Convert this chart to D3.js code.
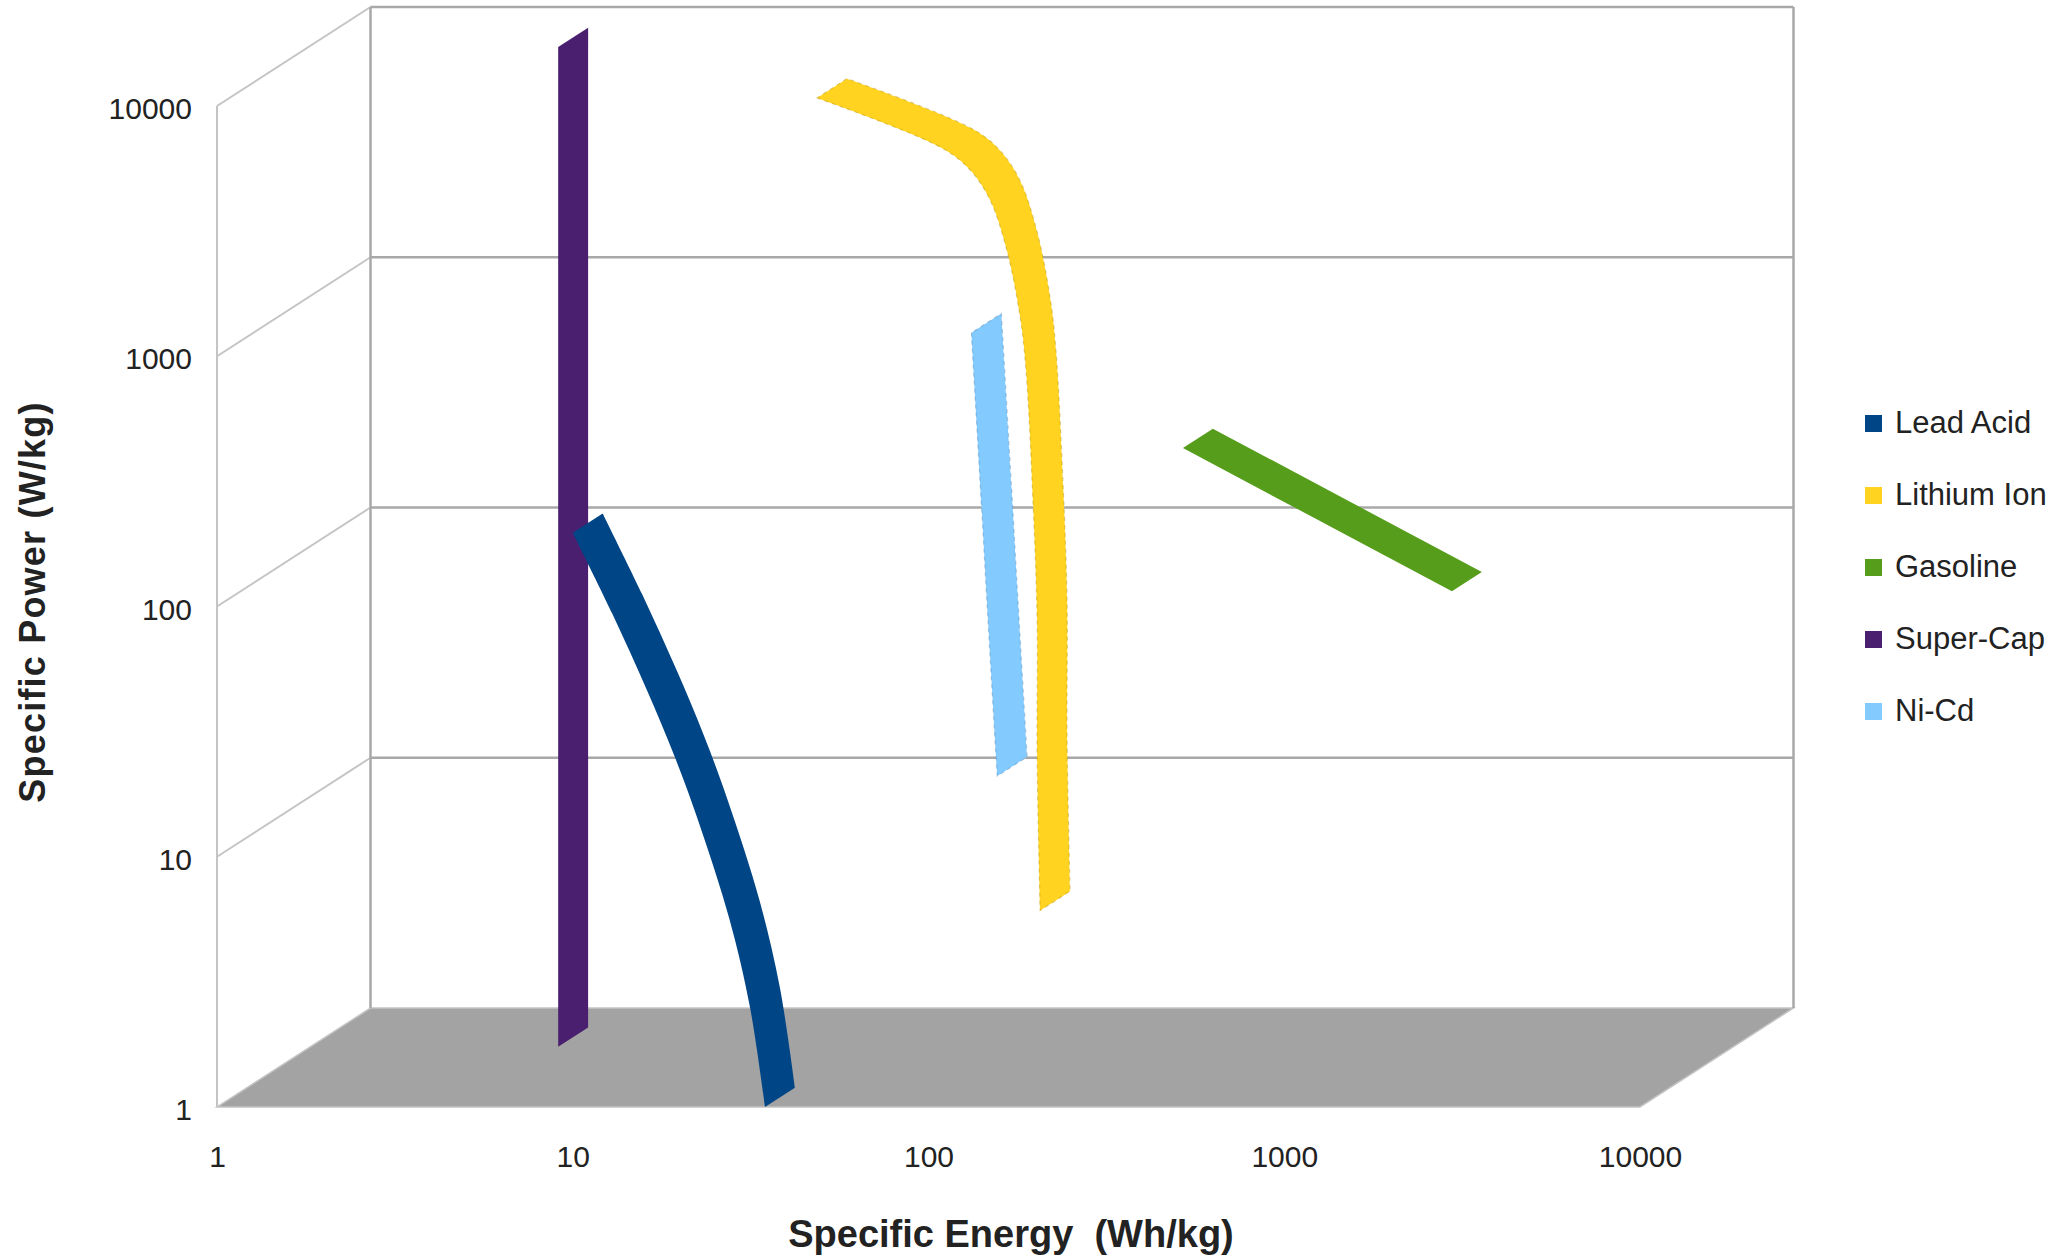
<!DOCTYPE html>
<html lang="en">
<head>
    <meta charset="UTF-8" />
    <title>Specific Power vs Specific Energy</title>
    <script src="https://d3js.org/d3.v7.min.js"></script>
    <style>
        body { margin: 0; background: #fff; }
        text { font-family: "Liberation Sans", Arial, sans-serif; fill: #222; }
    </style>
</head>

<body>
    <script>
        var w = 2051;
        var h = 1258;

        // Data (Wh/kg, W/kg)
        var seriesNames = ["Lead Acid", "Lithium Ion", "Gasoline", "Super-Cap", "Ni-Cd"];
        var seriesColors = ["#004586", "#ffd320", "#579d1c", "#4b1f6f", "#83caff"];

        var leadAcidEnergy = [10.0, 12.9, 16.2, 19.3, 22.5, 27.6, 31.5, 34.7];
        var leadAcidPower  = [197, 94, 46, 25.3, 14.0, 5.6, 2.5, 1.0];

        var lithiumEnergy = [48.6, 109, 131, 149, 166, 181, 188, 197, 202, 202, 206];
        var lithiumPower  = [10770, 6800, 5550, 4210, 2660, 1435, 881, 250, 88, 25, 6.1];

        var gasolineEnergy = [519, 2960];
        var gasolinePower  = [430, 115];

        var superCapEnergy = [9.1, 9.1];
        var superCapPower  = [1.74, 17200];

        var niCdEnergy = [132, 141, 147, 156];
        var niCdPower  = [1240, 250, 88, 21];

        var xTicks = [1, 10, 100, 1000, 10000];
        var yTicks = [1, 10, 100, 1000, 10000];

        // 3D box: depth vector of the floor, ribbon depth as fraction of it
        var depthX = 153.5;
        var depthY = -99;
        var ribbonDepth = 0.195;

        var svg = d3.select("body")
            .append("svg")
            .attr("width", w)
            .attr("height", h);

        // Scales (front plane)
        var xScale = d3.scaleLog()
            .domain([1, 10000])
            .range([217, 1640]);

        var yScale = d3.scaleLog()
            .domain([1, 10000])
            .range([1107, 106]);

        var x0 = xScale(1), x1 = xScale(10000);
        var y0 = yScale(1), y1 = yScale(10000);

        // Floor
        svg.append("path")
            .attr("d", "M" + x0 + "," + y0 + "L" + x1 + "," + y0 +
                "L" + (x1 + depthX) + "," + (y0 + depthY) +
                "L" + (x0 + depthX) + "," + (y0 + depthY) + "Z")
            .attr("fill", "#a3a3a3")
            .attr("stroke", "#c4c4c4")
            .attr("stroke-width", 1.5);

        // Side wall diagonals
        svg.selectAll(".diag")
            .data(yTicks.slice(1))
            .enter()
            .append("line")
            .attr("class", "diag")
            .attr("x1", x0)
            .attr("y1", function(d) { return yScale(d); })
            .attr("x2", x0 + depthX)
            .attr("y2", function(d) { return yScale(d) + depthY; })
            .attr("stroke", "#c4c4c4")
            .attr("stroke-width", 2);

        // Front left edge
        svg.append("line")
            .attr("x1", x0).attr("y1", y1)
            .attr("x2", x0).attr("y2", y0)
            .attr("stroke", "#c4c4c4")
            .attr("stroke-width", 2);

        // Back wall gridlines
        svg.selectAll(".grid")
            .data(yTicks.slice(1))
            .enter()
            .append("line")
            .attr("class", "grid")
            .attr("x1", x0 + depthX)
            .attr("x2", x1 + depthX)
            .attr("y1", function(d) { return yScale(d) + depthY; })
            .attr("y2", function(d) { return yScale(d) + depthY; })
            .attr("stroke", "#a8a8a8")
            .attr("stroke-width", 2.5);

        // Back wall edges
        [x0, x1].forEach(function(xx) {
            svg.append("line")
                .attr("x1", xx + depthX).attr("y1", y1 + depthY)
                .attr("x2", xx + depthX).attr("y2", y0 + depthY)
                .attr("stroke", "#a8a8a8")
                .attr("stroke-width", 2.5);
        });

        // Ribbons: front edge at the data, back edge pushed into depth
        var line = d3.line().curve(d3.curveCatmullRom.alpha(0.5));

        function ribbon(xs, ys) {
            var front = xs.map(function(x, i) { return [xScale(x), yScale(ys[i])]; });
            var back = front.map(function(p) {
                return [p[0] + ribbonDepth * depthX, p[1] + ribbonDepth * depthY];
            }).reverse();
            return line(front) + "L" + line(back).slice(1) + "Z";
        }

        var ribbons = [
            { name: "Super-Cap", xs: superCapEnergy, ys: superCapPower, dashed: false },
            { name: "Lead Acid", xs: leadAcidEnergy, ys: leadAcidPower, dashed: false },
            { name: "Lithium Ion", xs: lithiumEnergy, ys: lithiumPower, dashed: true },
            { name: "Gasoline", xs: gasolineEnergy, ys: gasolinePower, dashed: false },
            { name: "Ni-Cd", xs: niCdEnergy, ys: niCdPower, dashed: true }
        ];

        svg.selectAll(".ribbon")
            .data(ribbons)
            .enter()
            .append("path")
            .attr("class", "ribbon")
            .attr("d", function(d) { return ribbon(d.xs, d.ys); })
            .attr("fill", function(d) { return seriesColors[seriesNames.indexOf(d.name)]; })
            .attr("stroke", function(d) {
                return d.dashed ? d3.color(seriesColors[seriesNames.indexOf(d.name)]).darker(0.8) : "none";
            })
            .attr("stroke-opacity", 0.5)
            .attr("stroke-width", 1.2)
            .attr("stroke-dasharray", "4,4");

        // Axes
        var yAxis = svg.append("g")
            .attr("transform", "translate(" + x0 + ",3)")
            .call(d3.axisLeft(yScale).tickValues(yTicks).tickFormat(d3.format("d")).tickSize(0).tickPadding(25));

        var xAxis = svg.append("g")
            .attr("transform", "translate(0," + y0 + ")")
            .call(d3.axisBottom(xScale).tickValues(xTicks).tickFormat(d3.format("d")).tickSize(0).tickPadding(39));

        [xAxis, yAxis].forEach(function(g) {
            g.select(".domain").remove();
            g.selectAll("text")
                .attr("fill", "#222")
                .style("font-size", "30px")
                .style("font-family", "'Liberation Sans', Arial, sans-serif");
        });

        // Axis titles
        svg.append("text")
            .attr("x", 1011)
            .attr("y", 1247)
            .attr("text-anchor", "middle")
            .attr("xml:space", "preserve")
            .style("font-size", "38px")
            .style("font-weight", "bold")
            .style("white-space", "pre")
            .text("Specific Energy  (Wh/kg)");

        svg.append("text")
            .attr("transform", "translate(32,602) rotate(-90)")
            .attr("text-anchor", "middle")
            .attr("dominant-baseline", "central")
            .style("font-size", "36px")
            .style("font-weight", "bold")
            .style("letter-spacing", "1.2px")
            .text("Specific Power (W/kg)");

        // Legend
        var legend = svg.selectAll(".legend")
            .data(seriesNames)
            .enter()
            .append("g")
            .attr("class", "legend")
            .attr("transform", function(d, i) { return "translate(1865," + (422 + i * 72) + ")"; });

        legend.append("rect")
            .attr("x", 0)
            .attr("y", -7)
            .attr("width", 17)
            .attr("height", 17)
            .attr("fill", function(d, i) { return seriesColors[i]; });

        legend.append("text")
            .attr("x", 30)
            .attr("y", 0)
            .attr("dominant-baseline", "central")
            .style("font-size", "31px")
            .text(function(d) { return d; });
    </script>
</body>
</html>
